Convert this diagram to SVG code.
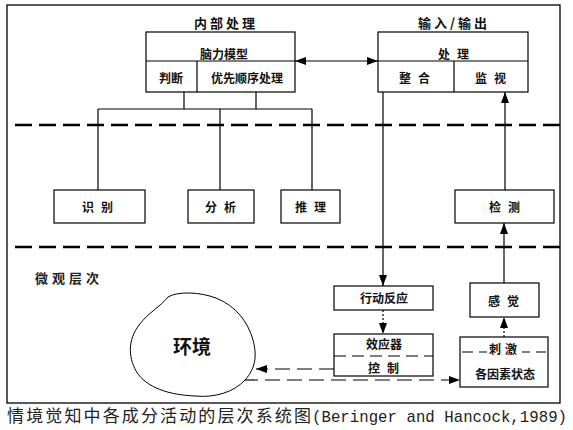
<svg xmlns="http://www.w3.org/2000/svg" width="573" height="430" viewBox="0 0 573 430">
<defs>
<marker id="arr" viewBox="0 0 10 10" refX="10" refY="5" markerWidth="11" markerHeight="8" markerUnits="userSpaceOnUse" preserveAspectRatio="none" orient="auto-start-reverse">
<path d="M0,0 L10,5 L0,10 Z" fill="#000"/>
</marker>
</defs>
<style>
.box{fill:#fff;stroke:#000;stroke-width:1.2}
.ln{fill:none;stroke:#000;stroke-width:1.2}
.dot{fill:none;stroke:#000;stroke-width:1.2;stroke-dasharray:2 2}
.dsh{fill:none;stroke:#000;stroke-width:1.2;stroke-dasharray:15 7}
.sep{fill:none;stroke:#000;stroke-width:2.6;stroke-dasharray:17 7}
.t{font-family:"Noto Sans CJK SC","Noto Sans",sans-serif;font-size:12px;font-weight:bold;text-anchor:middle;dominant-baseline:central;fill:#111}
.ttl{font-size:13px;letter-spacing:3px}
.sp{letter-spacing:7px}
</style>
<rect id="frame" x="7" y="5" width="553" height="398" fill="#fff" stroke="#000" stroke-width="1.3"/>
<g id="separators">
<path class="sep" d="M15,125 H560"/>
<path class="sep" d="M15,247 H560"/>
</g>
<g id="connectors">
<path class="ln" d="M184,92 V109 M256,92 V109 M98,109 H312 M98,109 V190 M220,109 V190 M312,109 V190"/>
<path class="ln" d="M295,61 H378" marker-start="url(#arr)" marker-end="url(#arr)"/>
<path class="ln" d="M383,92 V286" marker-end="url(#arr)"/>
<path class="dot" d="M383,310 V334" marker-end="url(#arr)"/>
<path class="ln" d="M505,190 V92" marker-end="url(#arr)"/>
<path class="ln" d="M504,283 V223" marker-end="url(#arr)"/>
<path class="dot" d="M504,337 V317" marker-end="url(#arr)"/>
<path class="dsh" d="M334,369 H256" marker-end="url(#arr)"/>
<path class="dsh" d="M243,380 H460" marker-end="url(#arr)"/>
</g>
<g id="internal-processing">
<text class="t ttl" x="226" y="22">内部处理</text>
<rect class="box" x="146" y="32" width="149" height="60"/>
<path class="ln" d="M146,61 H295 M197,61 V92"/>
<text class="t" x="224" y="53">脑力模型</text>
<text class="t" x="171" y="77">判断</text>
<text class="t" x="247" y="77">优先顺序处理</text>
</g>
<g id="input-output">
<text class="t ttl" x="454" y="22">输入/输出</text>
<rect class="box" x="378" y="32" width="150" height="60"/>
<path class="ln" d="M378,61 H528 M454,61 V92"/>
<text class="t sp" x="457" y="53">处理</text>
<text class="t sp" x="418" y="77">整合</text>
<text class="t sp" x="494" y="77">监视</text>
</g>
<g id="recognition">
<rect class="box" x="54" y="190" width="91" height="33"/>
<text class="t sp" x="101" y="206">识别</text>
</g>
<g id="analysis">
<rect class="box" x="188" y="190" width="66" height="33"/>
<text class="t sp" x="224" y="206">分析</text>
</g>
<g id="reasoning">
<rect class="box" x="281" y="190" width="59" height="33"/>
<text class="t sp" x="314" y="206">推理</text>
</g>
<g id="detection">
<rect class="box" x="455" y="190" width="99" height="33"/>
<text class="t sp" x="508" y="206">检测</text>
</g>
<g id="micro-level">
<text class="t" x="69" y="277" style="font-weight:600;letter-spacing:4px;font-size:13px;fill:#222">微观层次</text>
</g>
<g id="action">
<rect class="box" x="334" y="286" width="99" height="24"/>
<text class="t" x="384" y="297">行动反应</text>
</g>
<g id="effector">
<rect class="box" x="334" y="334" width="99" height="42"/>
<path class="ln" d="M334,356 H433" style="stroke-dasharray:12 6"/>
<text class="t" x="384" y="343">效应器</text>
<text class="t sp" x="387" y="367">控制</text>
</g>
<g id="sensation">
<rect class="box" x="470" y="283" width="69" height="34"/>
<text class="t sp" x="507" y="300">感觉</text>
</g>
<g id="stimulus">
<rect class="box" x="460" y="337" width="88" height="50"/>
<path class="ln" d="M462,352 h11 M479,352 h8 M522,352 h8 M536,352 h10"/>
<text class="t" x="505" y="348" style="letter-spacing:4px">刺激</text>
<text class="t" x="505" y="373">各因素状态</text>
</g>
<g id="environment">
<path d="M168,297 C178,291 200,292 216,298 C236,306 248,322 253,340 C257,355 256,368 245,380 C234,392 215,398 195,396 C170,395 146,388 136,371 C128,356 128,340 139,325 C149,312 160,307 168,297 Z" fill="#fff" stroke="#000" stroke-width="1"/>
<text class="t" x="192" y="345" style="font-size:19px">环境</text>
</g>
<g id="caption">
<text x="7" y="422" font-family="'Noto Sans CJK SC',sans-serif" font-size="17" fill="#222" textLength="304" lengthAdjust="spacing">情境觉知中各成分活动的层次系统图</text>
<text x="312" y="422" font-family="'Liberation Mono',monospace" font-size="15.7" fill="#222" textLength="255" lengthAdjust="spacing">(Beringer and Hancock,1989)</text>
</g>
</svg>
